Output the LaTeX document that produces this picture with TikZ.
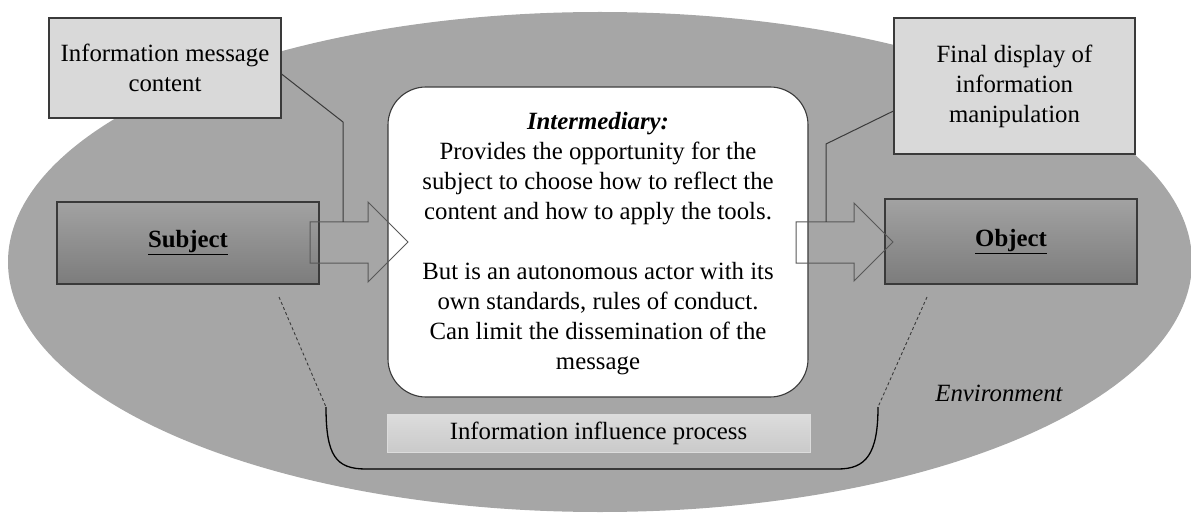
\documentclass[tikz,border=0pt]{standalone}
\usepackage{fontspec}
\setmainfont{Liberation Serif}
\usetikzlibrary{calc}
\definecolor{envgray}{HTML}{A6A6A6}
\definecolor{notegray}{HTML}{D9D9D9}
\definecolor{edgegray}{HTML}{3A3A3A}
\definecolor{actortop}{HTML}{A2A2A2}
\definecolor{actorbot}{HTML}{7C7C7C}
\definecolor{proctop}{HTML}{DCDCDC}
\definecolor{procbot}{HTML}{CACACA}
\tikzset{
  txt/.style={font=\fontsize{24.8}{30}\selectfont, align=center, inner sep=0pt},
  notebox/.style={txt, draw=edgegray, line width=1.1pt, fill=notegray},
  actorbox/.style={txt, draw=edgegray, line width=1.1pt, top color=actortop, bottom color=actorbot},
  midbox/.style={txt, draw=edgegray, line width=1.1pt, fill=white, rounded corners=38pt},
  procbox/.style={txt, top color=proctop, bottom color=procbot, draw=proctop, line width=0.8pt},
  conn/.style={draw=edgegray, line width=1pt},
  barrow/.style={draw=edgegray!85, line width=1pt},
  guide/.style={draw=edgegray, line width=0.9pt, dash pattern=on 3pt off 2.5pt},
  bracket/.style={draw=black, line width=1.3pt},
}
\begin{document}
\begin{tikzpicture}[x=1pt, y=-1pt]
\useasboundingbox (0,0) rectangle (1191,513);

% environment
\fill[envgray] (600,262) ellipse [x radius=592, y radius=250];
\node[txt, font=\fontsize{24.8}{30}\selectfont\itshape] (env) at (999,393) {Environment};

% note boxes
\node[notebox, minimum width=232pt, minimum height=100pt] (msg) at (165,68)
  {\raisebox{0pt}[\height][\depth]{Information message}\\content};
\node[notebox, minimum width=241pt, minimum height=136pt] (disp) at (1014.5,86)
  {Final display of\\information\\manipulation};

% actors
\node[actorbox, minimum width=262pt, minimum height=82pt] (subj) at (188,243)
  {\underline{\textbf{Subject}}};
\node[actorbox, minimum width=252pt, minimum height=85pt] (obj) at (1011,241.5)
  {\underline{\textbf{Object}}};

% intermediary: rounded frame with its text set slightly lower
\node[midbox, minimum width=420pt, minimum height=310pt] (mid) at (598,242) {};
\node[txt] (midtext) at (598,244)
  {\textbf{\textit{Intermediary:}}\\
   Provides the opportunity for the\\
   subject to choose how to reflect the\\
   content and how to apply the tools.\\[30pt]
   But is an autonomous actor with its\\
   own standards, rules of conduct.\\
   Can limit the dissemination of the\\
   message};

% block arrows
\draw[barrow] (310,222) -- (368,222) -- (368,202) -- (408,242) -- (368,282) -- (368,263) -- (310,263) -- cycle;
\draw[barrow] (796,222) -- (854,222) -- (854,203) -- (893,242) -- (854,281) -- (854,263) -- (796,263) -- cycle;
\coordinate (inA) at (343,222);
\coordinate (inB) at (826,222);

% connectors from the notes to the arrows
\draw[conn] ([yshift=-6pt]msg.east) -- (343,122) -- (inA);
\draw[conn] ([yshift=-25pt]disp.west) -- (826,144) -- (inB);

% process bracket
\node[procbox, minimum width=423pt, minimum height=38pt] (proc) at (598.5,433)
  {Information influence process};
\coordinate (gl) at (279,297);
\coordinate (bl) at (326,407);
\coordinate (gr) at (927,297);
\coordinate (br) at (878,407);
\draw[guide] (gl) -- (bl);
\draw[guide] (gr) -- (br);
\draw[bracket] (bl) .. controls (326,456) and (336,469) .. (366,469)
  -- (838,469) .. controls (866,469) and (878,454) .. (br);
\end{tikzpicture}
\end{document}
